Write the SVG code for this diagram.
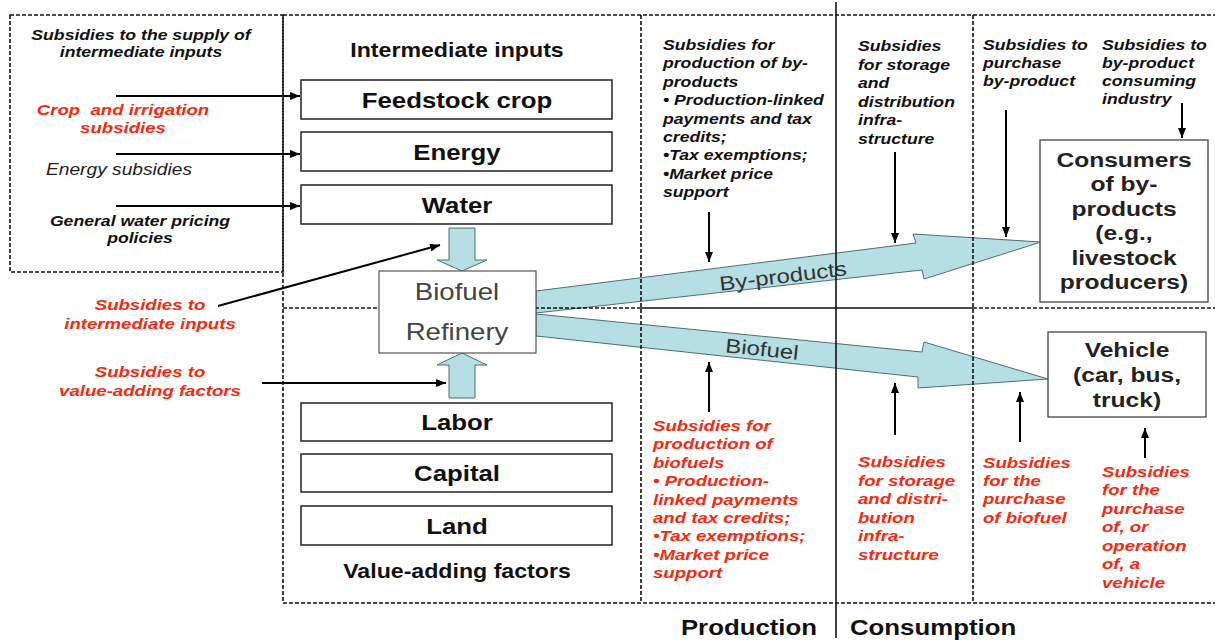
<svg xmlns="http://www.w3.org/2000/svg" width="1215" height="640" viewBox="0 0 1215 640">
<style>
text{font-family:"Liberation Sans",Arial,sans-serif}
.bi{font-style:italic;font-weight:bold;font-size:14.7px;fill:#111}
.ni{font-style:italic;font-size:16px;fill:#222}
.rd{font-style:italic;font-weight:bold;font-size:15.5px;fill:#f52a0f}
.big{font-weight:bold;font-size:21.5px;fill:#111}
.ttl{font-weight:bold;font-size:19.3px;fill:#111}
.ref{font-size:23px;fill:#444}
.lbl{font-size:20px;fill:#333}
.frame{fill:none;stroke:#111;stroke-width:1.6;stroke-dasharray:4 2}
.solid{fill:none;stroke:#111;stroke-width:1.6}
.box{fill:#fff;stroke:#222;stroke-width:1.5}
.cbox{fill:#fff;stroke:#444;stroke-width:1.3}
.blk{fill:#b5dfe3;stroke:#4d6f74;stroke-width:1}
.ar{stroke:#000;stroke-width:2;fill:none;marker-end:url(#ah)}
.mid{text-anchor:middle}
</style>
<defs>
<marker id="ah" markerWidth="10" markerHeight="8" refX="10" refY="4" orient="auto" markerUnits="userSpaceOnUse"><path d="M0,0 L10,4 L0,8 z" fill="#000"/></marker>
</defs>
<rect width="1215" height="640" fill="#fff"/>

<g id="connectors">
<polygon class="blk" points="449,228 475,228 475,260 487,260 462,271 437,260 449,260"/>
<polygon class="blk" points="462,353 487,365 475,365 475,398 449,398 449,365 437,365"/>
<polygon class="blk" points="536,291 916,243 913,234 1041,242 924,279 922,270 536,313"/>
<polygon class="blk" points="536,314 922,352 924,342 1048,379 918,388 918,377 536,336"/>
<text class="lbl mid" transform="translate(783 276) rotate(-7) scale(1.2 1)" y="7">By-products</text>
<text class="lbl mid" transform="translate(762 349) rotate(6) scale(1.2 1)" y="7">Biofuel</text>
<line class="ar" x1="116" y1="96" x2="300" y2="96"/>
<line class="ar" x1="116" y1="154" x2="300" y2="154"/>
<line class="ar" x1="116" y1="206" x2="300" y2="206"/>
<line class="ar" x1="218" y1="306" x2="440" y2="245"/>
<line class="ar" x1="262" y1="383" x2="446" y2="383"/>
<line class="ar" x1="709" y1="212" x2="709" y2="262"/>
<line class="ar" x1="895" y1="152" x2="895" y2="243"/>
<line class="ar" x1="1006" y1="110" x2="1006" y2="237"/>
<line class="ar" x1="1182" y1="103" x2="1182" y2="138"/>
<line class="ar" x1="709" y1="412" x2="709" y2="362"/>
<line class="ar" x1="895" y1="435" x2="895" y2="383"/>
<line class="ar" x1="1020" y1="442" x2="1020" y2="392"/>
<line class="ar" x1="1145" y1="458" x2="1145" y2="428"/>
</g>

<g id="frame">
<rect class="frame" x="10" y="15" width="273" height="257"/>
<line class="frame" x1="283" y1="15" x2="1215" y2="15"/>
<line class="frame" x1="283" y1="15" x2="283" y2="603"/>
<line class="frame" x1="641" y1="15" x2="641" y2="603"/>
<line class="frame" x1="973" y1="15" x2="973" y2="603"/>
<line class="frame" x1="283" y1="308" x2="641" y2="308"/>
<line class="solid" x1="641" y1="308" x2="973" y2="308"/>
<line class="frame" x1="973" y1="308" x2="1215" y2="308"/>
<line class="frame" x1="283" y1="603" x2="1215" y2="603"/>
<line class="solid" x1="836" y1="2" x2="836" y2="638"/>
</g>

<g id="n-supply-subsidies">
<text class="bi mid" transform="translate(141 40) scale(1.2 1)"><tspan x="0" y="0">Subsidies to the supply of</tspan><tspan x="0" y="17">intermediate inputs</tspan></text>
</g>
<g id="n-crop-subsidies">
<text class="rd mid" style="white-space:pre" transform="translate(123 115) scale(1.2 1)"><tspan x="0" y="0">Crop  and irrigation</tspan><tspan x="0" y="18">subsidies</tspan></text>
</g>
<g id="n-energy-subsidies">
<text class="ni mid" transform="translate(119 175) scale(1.2 1)">Energy subsidies</text>
</g>
<g id="n-water-policies">
<text class="bi mid" transform="translate(140 226) scale(1.2 1)"><tspan x="0" y="0">General water pricing</tspan><tspan x="0" y="17">policies</tspan></text>
</g>
<g id="n-sub-intermediate">
<text class="rd mid" transform="translate(150 310) scale(1.2 1)"><tspan x="0" y="0">Subsidies to</tspan><tspan x="0" y="19">intermediate inputs</tspan></text>
</g>
<g id="n-sub-value">
<text class="rd mid" transform="translate(150 377) scale(1.2 1)"><tspan x="0" y="0">Subsidies to</tspan><tspan x="0" y="19">value-adding factors</tspan></text>
</g>

<g id="n-intermediate-title">
<text class="ttl mid" transform="translate(457 57) scale(1.2 1)">Intermediate inputs</text>
</g>
<g id="n-feedstock">
<rect class="box" x="301" y="80" width="311" height="39"/>
<text class="big mid" transform="translate(457 107.5) scale(1.2 1)">Feedstock crop</text>
</g>
<g id="n-energy">
<rect class="box" x="301" y="132" width="311" height="39"/>
<text class="big mid" transform="translate(457 159.5) scale(1.2 1)">Energy</text>
</g>
<g id="n-water">
<rect class="box" x="301" y="185" width="311" height="39"/>
<text class="big mid" transform="translate(457 212.5) scale(1.2 1)">Water</text>
</g>
<g id="n-refinery">
<rect x="379" y="271" width="157" height="82" fill="#fff" stroke="#555" stroke-width="1.2"/>
<text class="ref mid" transform="translate(457 300) scale(1.2 1)">Biofuel</text>
<text class="ref mid" transform="translate(457 340) scale(1.2 1)">Refinery</text>
</g>
<g id="n-labor">
<rect class="box" x="301" y="403" width="311" height="38"/>
<text class="big mid" transform="translate(457 430) scale(1.2 1)">Labor</text>
</g>
<g id="n-capital">
<rect class="box" x="301" y="454" width="311" height="38"/>
<text class="big mid" transform="translate(457 481) scale(1.2 1)">Capital</text>
</g>
<g id="n-land">
<rect class="box" x="301" y="506" width="311" height="39"/>
<text class="big mid" transform="translate(457 533.5) scale(1.2 1)">Land</text>
</g>
<g id="n-value-title">
<text class="ttl mid" transform="translate(457 578) scale(1.2 1)">Value-adding factors</text>
</g>

<g id="n-byprod-production-sub">
<text class="bi" transform="translate(663 50) scale(1.2 1)"><tspan x="0" y="0">Subsidies for</tspan><tspan x="0" y="18.4">production of by-</tspan><tspan x="0" y="36.8">products</tspan><tspan x="0" y="55.2">• Production-linked</tspan><tspan x="0" y="73.6">payments and tax</tspan><tspan x="0" y="92">credits;</tspan><tspan x="0" y="110.4">•Tax exemptions;</tspan><tspan x="0" y="128.8">•Market price</tspan><tspan x="0" y="147.2">support</tspan></text>
</g>
<g id="n-byprod-storage-sub">
<text class="bi" transform="translate(858 51) scale(1.2 1)"><tspan x="0" y="0">Subsidies</tspan><tspan x="0" y="18.6">for storage</tspan><tspan x="0" y="37.2">and</tspan><tspan x="0" y="55.8">distribution</tspan><tspan x="0" y="74.4">infra-</tspan><tspan x="0" y="93">structure</tspan></text>
</g>
<g id="n-purchase-byprod-sub">
<text class="bi" transform="translate(983 50) scale(1.2 1)"><tspan x="0" y="0">Subsidies to</tspan><tspan x="0" y="18">purchase</tspan><tspan x="0" y="36">by-product</tspan></text>
</g>
<g id="n-industry-sub">
<text class="bi" transform="translate(1102 50) scale(1.2 1)"><tspan x="0" y="0">Subsidies to</tspan><tspan x="0" y="18">by-product</tspan><tspan x="0" y="36">consuming</tspan><tspan x="0" y="54">industry</tspan></text>
</g>
<g id="n-consumers">
<rect class="cbox" x="1040" y="140" width="168" height="162"/>
<text class="big mid" style="font-size:20.5px;fill:#222" transform="translate(1124 167) scale(1.2 1)"><tspan x="0" y="0">Consumers</tspan><tspan x="0" y="24.5">of by-</tspan><tspan x="0" y="49">products</tspan><tspan x="0" y="73.5">(e.g.,</tspan><tspan x="0" y="98">livestock</tspan><tspan x="0" y="122.5">producers)</tspan></text>
</g>
<g id="n-vehicle">
<rect class="cbox" x="1048" y="332" width="158" height="85"/>
<text class="big mid" style="font-size:20.5px;fill:#222" transform="translate(1127 357) scale(1.2 1)"><tspan x="0" y="0">Vehicle</tspan><tspan x="0" y="25">(car, bus,</tspan><tspan x="0" y="50">truck)</tspan></text>
</g>

<g id="n-biofuel-production-sub">
<text class="rd" transform="translate(653 431) scale(1.2 1)"><tspan x="0" y="0">Subsidies for</tspan><tspan x="0" y="18.4">production of</tspan><tspan x="0" y="36.8">biofuels</tspan><tspan x="0" y="55.2">• Production-</tspan><tspan x="0" y="73.6">linked payments</tspan><tspan x="0" y="92">and tax credits;</tspan><tspan x="0" y="110.4">•Tax exemptions;</tspan><tspan x="0" y="128.8">•Market price</tspan><tspan x="0" y="147.2">support</tspan></text>
</g>
<g id="n-biofuel-storage-sub">
<text class="rd" transform="translate(858 467) scale(1.2 1)"><tspan x="0" y="0">Subsidies</tspan><tspan x="0" y="18.6">for storage</tspan><tspan x="0" y="37.2">and distri-</tspan><tspan x="0" y="55.8">bution</tspan><tspan x="0" y="74.4">infra-</tspan><tspan x="0" y="93">structure</tspan></text>
</g>
<g id="n-purchase-biofuel-sub">
<text class="rd" transform="translate(983 468) scale(1.2 1)"><tspan x="0" y="0">Subsidies</tspan><tspan x="0" y="18.2">for the</tspan><tspan x="0" y="36.4">purchase</tspan><tspan x="0" y="54.6">of biofuel</tspan></text>
</g>
<g id="n-vehicle-sub">
<text class="rd" transform="translate(1102 477) scale(1.2 1)"><tspan x="0" y="0">Subsidies</tspan><tspan x="0" y="18.5">for the</tspan><tspan x="0" y="37">purchase</tspan><tspan x="0" y="55.5">of, or</tspan><tspan x="0" y="74">operation</tspan><tspan x="0" y="92.5">of, a</tspan><tspan x="0" y="111">vehicle</tspan></text>
</g>

<g id="n-production-label">
<text class="big" style="text-anchor:end" transform="translate(817 635) scale(1.2 1)">Production</text>
</g>
<g id="n-consumption-label">
<text class="big" transform="translate(850 635) scale(1.2 1)">Consumption</text>
</g>
</svg>
